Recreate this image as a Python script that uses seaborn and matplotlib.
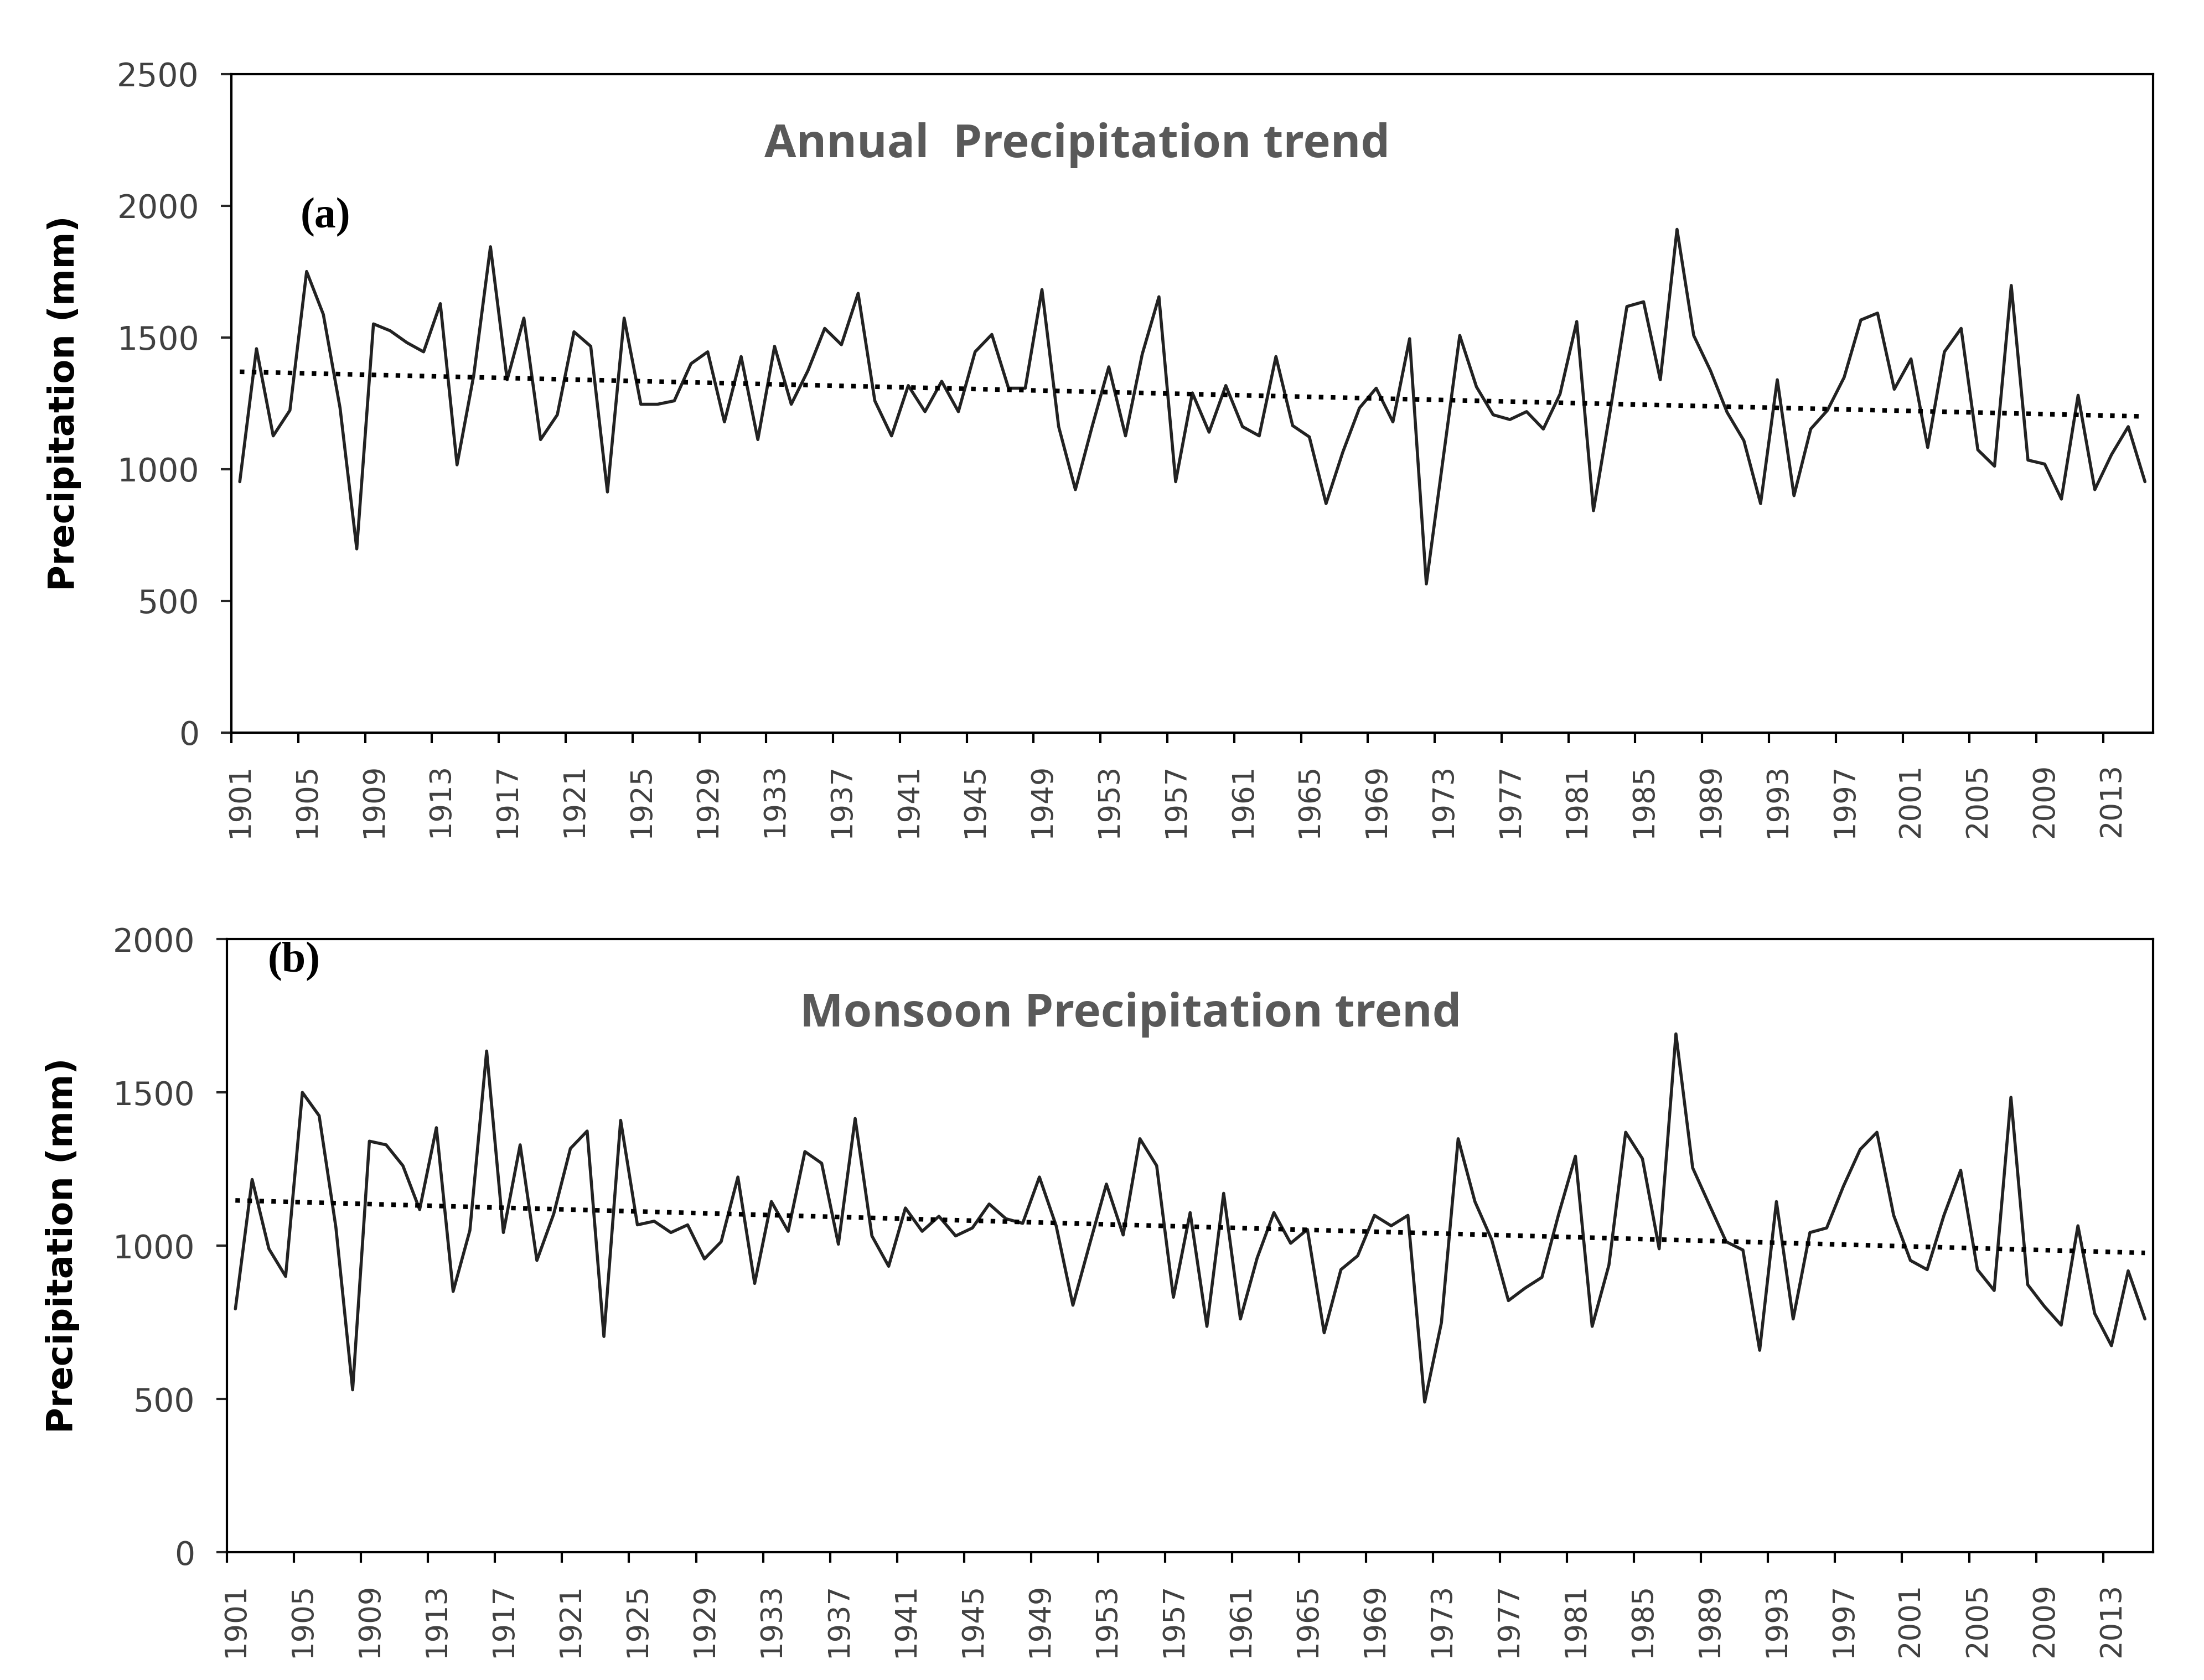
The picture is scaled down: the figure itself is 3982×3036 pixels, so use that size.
import numpy as np
import pandas as pd
import matplotlib
matplotlib.use("Agg")
import matplotlib.pyplot as plt
import seaborn as sns

years = list(range(1901, 2016))

annual = [952, 1457, 1126, 1223, 1750, 1587, 1232, 697, 1551, 1525,
          1480, 1445, 1628, 1016, 1356, 1844, 1339, 1573, 1112, 1206,
          1521, 1466, 913, 1573, 1246, 1246, 1259, 1400, 1445, 1179,
          1427, 1112, 1466, 1246, 1374, 1534, 1472, 1667, 1259, 1126,
          1317, 1218, 1333, 1218, 1445, 1511, 1307, 1307, 1681, 1161,
          922, 1161, 1388, 1126, 1436, 1654, 952, 1289, 1140, 1317,
          1161, 1126, 1427, 1165, 1122, 869, 1064, 1232, 1307, 1179,
          1495, 564, 1037, 1507, 1312, 1206, 1188, 1218, 1152, 1285,
          1560, 842, 1220, 1617, 1635, 1339, 1910, 1507, 1374, 1215,
          1108, 869, 1339, 899, 1152, 1223, 1348, 1566, 1592, 1303,
          1418, 1082, 1445, 1534, 1073, 1011, 1697, 1034, 1019, 886,
          1280, 922, 1055, 1161, 952]

monsoon = [794, 1216, 990, 900, 1500, 1424, 1060, 530, 1341, 1329,
           1261, 1118, 1385, 851, 1050, 1635, 1043, 1329, 952, 1103,
           1317, 1374, 704, 1409, 1068, 1080, 1043, 1068, 957, 1013,
           1224, 877, 1144, 1047, 1307, 1269, 1005, 1415, 1032, 933,
           1123, 1047, 1096, 1032, 1058, 1136, 1088, 1073, 1224, 1065,
           806, 1005, 1201, 1035, 1349, 1261, 832, 1108, 737, 1171,
           761, 960, 1108, 1008, 1053, 716, 922, 967, 1099, 1065,
           1099, 490, 749, 1349, 1144, 1020, 821, 862, 897, 1103,
           1292, 737, 937, 1370, 1284, 990, 1691, 1254, 1133, 1013,
           986, 659, 1144, 761, 1043, 1058, 1194, 1314, 1370, 1099,
           952, 922, 1099, 1246, 922, 854, 1484, 873, 802, 741,
           1065, 779, 674, 918, 761]

titles = ["Annual  Precipitation trend", "Monsoon Precipitation trend"]
panel_tags = ["(a)", "(b)"]
ylims = [2500, 2000]
ylabel = "Precipitation (mm)"

sns.set_theme(style="white")
plt.rcParams["font.family"] = ["DejaVu Sans"]

fig = plt.figure(figsize=(19.91, 15.18), dpi=200)
ax_a = fig.add_axes([0.105, 0.564, 0.872, 0.392])
ax_b = fig.add_axes([0.103, 0.076, 0.874, 0.365])

tick_col = "#404040"
n = len(years)
idx = np.arange(n)

configs = [
    (ax_a, annual, 0, (0.440, 0.892), (0.036, 0.782), -0.078),
    (ax_b, monsoon, 1, (0.469, 0.877), (0.021, 0.963), -0.0765),
]

for ax, vals, i, tpos, ppos, ylx in configs:
    df = pd.DataFrame({"idx": idx, "val": vals})
    sns.lineplot(data=df, x="idx", y="val", ax=ax, color="#222222",
                 linewidth=2.0)
    sns.regplot(data=df, x="idx", y="val", ax=ax, scatter=False, ci=None,
                line_kws=dict(color="black", linestyle=(0, (1, 1.6)),
                              linewidth=3.0))
    ax.set_xlim(-0.5, n - 0.5)
    ax.set_ylim(0, ylims[i])
    ax.set_yticks(np.arange(0, ylims[i] + 1, 500))
    ax.set_xticks(np.arange(-0.5, n, 4))
    ax.set_xticks(idx[::4], labels=[str(y) for y in years[::4]], minor=True)
    ax.tick_params(axis="x", which="major", length=7, width=1.5,
                   direction="out", labelbottom=False, color="black", bottom=True)
    ax.tick_params(axis="x", which="minor", length=0, pad=20, rotation=90,
                   labelsize=19, labelcolor=tick_col, bottom=True)
    ax.tick_params(axis="y", length=7, width=1.5, direction="out",
                   pad=14, labelsize=21, labelcolor=tick_col, left=True)
    for s in ax.spines.values():
        s.set_visible(True)
        s.set_color("black")
        s.set_linewidth(1.5)
    ax.set_xlabel("")
    ax.set_ylabel(ylabel, fontsize=23, fontweight="bold", color="black")
    ax.yaxis.set_label_coords(ylx, 0.5)
    ax.text(tpos[0], tpos[1], titles[i], transform=ax.transAxes,
            ha="center", va="center", fontsize=30, fontweight="bold",
            color="#595959", family=["Open Sans", "DejaVu Sans"])
    ax.text(ppos[0], ppos[1], panel_tags[i], transform=ax.transAxes,
            ha="left", va="center", fontsize=28, fontweight="bold",
            color="black", family=["Liberation Serif", "DejaVu Serif"])
    ax.grid(False)

fig.savefig("out.png", dpi=200, facecolor="white")
